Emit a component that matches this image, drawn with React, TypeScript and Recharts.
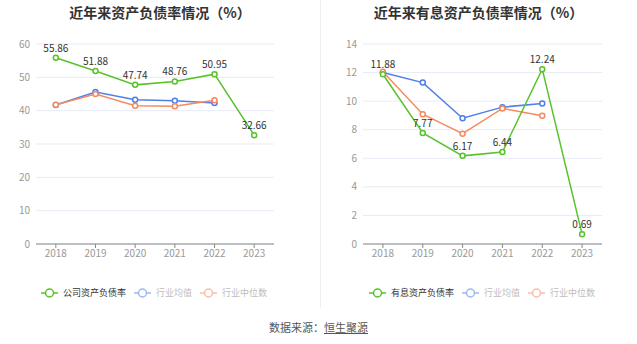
import { CartesianGrid, LabelList, Line, LineChart, XAxis, YAxis } from "recharts";

const years = ["2018", "2019", "2020", "2021", "2022", "2023"];

const debtRatio = [55.86, 51.88, 47.74, 48.76, 50.95, 32.66];
const debtAvg = [41.7, 45.6, 43.3, 43.0, 42.3, null];
const debtMedian = [41.8, 45.0, 41.5, 41.3, 43.1, null];

const ibRatio = [11.88, 7.77, 6.17, 6.44, 12.24, 0.69];
const ibAvg = [12.0, 11.3, 8.8, 9.58, 9.84, null];
const ibMedian = [12.05, 9.09, 7.72, 9.49, 8.98, null];

const leftTicks = [0, 10, 20, 30, 40, 50, 60];
const rightTicks = [0, 2, 4, 6, 8, 10, 12, 14];

const GREEN = "#58c22b";
const BLUE = "#4f7fe9";
const ORANGE = "#f7895f";
const FONT = "'Noto Sans CJK SC', 'Noto Sans', sans-serif";

function rows(a: (number | null)[], b: (number | null)[], c: (number | null)[]) {
  return years.map((year, i) => ({ year, company: a[i], avg: b[i], median: c[i] }));
}

const leftData = rows(debtRatio, debtAvg, debtMedian);
const rightData = rows(ibRatio, ibAvg, ibMedian);

function LegendRow({ items, left }: { items: { name: string; color: string; dim: boolean }[]; left: number }) {
  return (
    <div style={{ position: "absolute", left, top: 286, display: "flex", alignItems: "center", fontSize: 9, fontFamily: FONT }}>
      {items.map((it) => (
        <div key={it.name} style={{ display: "flex", alignItems: "center", marginRight: 8, opacity: it.dim ? 0.55 : 1 }}>
          <svg width={17} height={12} style={{ marginRight: 5 }}>
            <line x1={0} y1={6} x2={17} y2={6} stroke={it.color} strokeWidth={1.5} />
            <circle cx={8.5} cy={6} r={4} fill="#fff" stroke={it.color} strokeWidth={1.5} />
          </svg>
          <span style={{ color: it.dim ? "#888" : "#333" }}>{it.name}</span>
        </div>
      ))}
    </div>
  );
}

function Panel({
  data,
  ticks,
  max,
  yWidth,
  right,
}: {
  data: ReturnType<typeof rows>;
  ticks: number[];
  max: number;
  yWidth: number;
  right: number;
}) {
  const dot = (color: string) => ({ r: 2.5, fill: "#fff", stroke: color, strokeWidth: 1.5 });
  return (
    <LineChart width={320} height={274} data={data} margin={{ top: 44, right, bottom: 0, left: 0 }}>
      <CartesianGrid vertical={false} stroke="#e6ebf5" />
      <XAxis
        dataKey="year"
        scale="band"
        height={30}
        axisLine={{ stroke: "#888" }}
        tickLine={{ stroke: "#888" }}
        tickSize={4}
        tick={{ fill: "#999", fontSize: 10, fontFamily: FONT }}
      />
      <YAxis
        width={yWidth}
        domain={[0, max]}
        ticks={ticks}
        axisLine={false}
        tickLine={false}
        tickSize={4}
        tick={{ fill: "#999", fontSize: 10, fontFamily: FONT }}
      />
      <Line dataKey="avg" stroke={BLUE} strokeWidth={1.5} dot={dot(BLUE)} isAnimationActive={false} />
      <Line dataKey="median" stroke={ORANGE} strokeWidth={1.5} dot={dot(ORANGE)} isAnimationActive={false} />
      <Line dataKey="company" stroke={GREEN} strokeWidth={1.5} dot={dot(GREEN)} isAnimationActive={false}>
        <LabelList dataKey="company" position="top" offset={6} fill="#333" fontSize={10} fontFamily={FONT} />
      </Line>
    </LineChart>
  );
}

export default function App() {
  return (
    <div style={{ position: "absolute", left: 0, top: 0, width: 637, height: 344, background: "#fff", fontFamily: FONT }}>
      <div style={{ position: "absolute", left: 0, top: 2, width: 320, textAlign: "center", fontSize: 14, fontWeight: "bold", color: "#333" }}>
        近年来资产负债率情况（%）
      </div>
      <div style={{ position: "absolute", left: 320, top: 2, width: 317, textAlign: "center", fontSize: 14, fontWeight: "bold", color: "#333" }}>
        近年来有息资产负债率情况（%）
      </div>
      <div style={{ position: "absolute", left: 320, top: 0, width: 1, height: 308, background: "#eee" }} />
      <div style={{ position: "absolute", left: 0, top: 0 }}>
        <Panel data={leftData} ticks={leftTicks} max={60} yWidth={36} right={46} />
      </div>
      <div style={{ position: "absolute", left: 320, top: 0 }}>
        <Panel data={rightData} ticks={rightTicks} max={14} yWidth={43} right={38} />
      </div>
      <LegendRow
        left={41}
        items={[
          { name: "公司资产负债率", color: GREEN, dim: false },
          { name: "行业均值", color: BLUE, dim: true },
          { name: "行业中位数", color: ORANGE, dim: true },
        ]}
      />
      <LegendRow
        left={369}
        items={[
          { name: "有息资产负债率", color: GREEN, dim: false },
          { name: "行业均值", color: BLUE, dim: true },
          { name: "行业中位数", color: ORANGE, dim: true },
        ]}
      />
      <div style={{ position: "absolute", left: 0, top: 319, width: 637, textAlign: "center", fontSize: 11, color: "#555" }}>
        数据来源：<span style={{ textDecoration: "underline" }}>恒生聚源</span>
      </div>
    </div>
  );
}
